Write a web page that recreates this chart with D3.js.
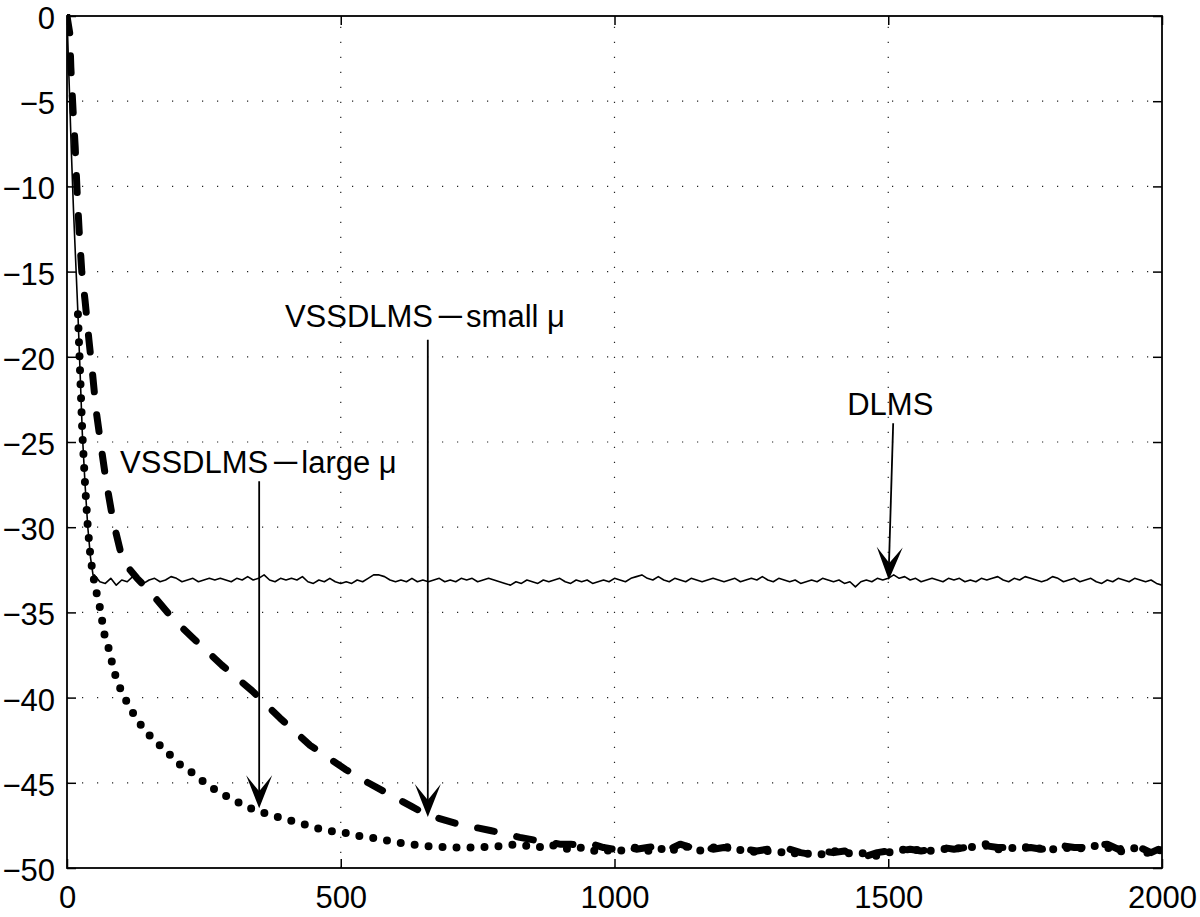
<!DOCTYPE html>
<html>
<head>
<meta charset="utf-8">
<script src="https://cdn.jsdelivr.net/npm/d3@7"></script>
<style>
html,body{margin:0;padding:0;background:#fff;}
svg{display:block;}
text{font-family:"Liberation Sans",Arial,Helvetica,sans-serif;}
</style>
</head>
<body>
<svg id="chart" width="1200" height="917"></svg>
<script>
// ---------------- data ----------------
const xTicks = [0, 500, 1000, 1500, 2000];
const yTicks = [0, -5, -10, -15, -20, -25, -30, -35, -40, -45, -50];

// DLMS: fast initial descent then steady state near -33 dB
const dlmsHeadIter = [0, 4, 8, 12, 16, 20, 24, 28, 33, 38, 43, 48];
const dlmsHeadVal  = [0, -4, -8, -11.5, -14.5, -17.5, -21, -24.5, -27.5, -30, -31.8, -32.9];
const dlmsSteadyVal = [
 -32.8,-33.2,-33.3,-33.0,-33.4,-33.1,-33.2,-32.9,-33.0,-33.3,-33.1,-33.0,-33.2,-33.1,-32.9,-33.0,-33.2,-33.1,-33.0,-33.2,
 -33.1,-33.0,-33.1,-33.0,-33.1,-33.2,-33.0,-33.1,-32.9,-33.1,-33.0,-32.8,-33.1,-33.2,-33.0,-33.1,-33.0,-33.1,-32.9,-33.2,
 -33.3,-33.1,-33.2,-33.0,-33.2,-33.3,-33.2,-33.3,-33.1,-33.2,-33.0,-32.8,-32.8,-32.9,-33.1,-33.2,-33.1,-33.2,-33.0,-33.2,
 -33.1,-33.2,-33.1,-33.0,-33.2,-33.1,-33.2,-33.0,-33.1,-33.0,-33.2,-33.1,-33.0,-33.1,-33.2,-33.3,-33.4,-33.2,-33.3,-33.1,
 -33.2,-33.3,-33.1,-33.2,-33.1,-33.0,-33.2,-33.3,-33.1,-33.2,-33.1,-33.3,-33.2,-33.1,-33.2,-33.0,-33.1,-33.2,-33.0,-32.9,
 -32.8,-33.0,-33.1,-32.9,-33.1,-33.2,-33.0,-33.1,-33.2,-33.0,-33.1,-33.2,-33.1,-33.0,-33.1,-33.2,-33.1,-33.0,-33.2,-33.1,
 -33.0,-33.1,-32.9,-33.1,-33.2,-33.0,-33.1,-33.2,-33.1,-33.3,-33.2,-33.1,-33.2,-33.0,-33.1,-33.2,-33.1,-33.3,-33.2,-33.5,
 -33.2,-33.1,-33.2,-33.0,-33.1,-33.0,-32.8,-33.0,-32.9,-33.1,-33.0,-33.2,-33.1,-33.0,-33.1,-33.2,-33.0,-33.1,-33.0,-33.2,
 -33.1,-33.2,-33.0,-33.1,-33.0,-32.9,-33.1,-33.2,-33.0,-33.1,-32.9,-33.0,-33.1,-33.2,-33.1,-32.9,-33.0,-33.2,-33.1,-33.0,
 -33.2,-33.1,-33.0,-33.2,-33.3,-33.1,-33.2,-33.0,-33.1,-33.2,-33.0,-33.1,-33.2,-33.1,-33.3,-33.4
];
const dlmsSteadyIter = d3.range(50, 2001, 10);

// VSSDLMS - small mu (dashed)
const smallHeadIter = [0, 5, 7, 11, 15, 18, 22, 27, 33, 40, 47, 53, 62, 71, 84, 99, 115, 128, 152, 194, 230, 283, 338, 389, 444, 508, 550, 590, 630, 659, 712, 773, 827, 860, 900];
const smallHeadVal  = [0, -1, -3, -5.5, -7.7, -10, -12.5, -15, -16.7, -19, -21.1, -23.1, -25.2, -27.2, -29.6, -31.6, -32.5, -33.0, -33.8, -35.4, -36.5, -38.1, -39.6, -41.2, -42.8, -44.2, -45.0, -45.7, -46.4, -46.9, -47.4, -47.8, -48.2, -48.4, -48.6];
const smallTailVal = [
 -48.6,-48.7,-48.6,-48.8,-48.9,-48.7,-48.9,-48.8,-48.7,-48.9,-48.6,-48.8,-48.7,-48.9,-48.8,-48.9,-48.9,-49.0,-48.9,-49.0,
 -48.9,-49.1,-49.2,-49.0,-49.1,-49.0,-49.2,-49.3,-49.1,-49.0,-49.0,-48.9,-49.0,-48.9,-48.8,-48.9,-48.8,-48.9,-48.7,-48.8,
 -48.8,-48.9,-48.8,-48.9,-48.8,-48.7,-48.8,-48.8,-48.7,-48.6,-48.9,-48.7,-48.8,-49.1,-48.8
];
const smallTailIter = d3.range(920, 2001, 20);

// VSSDLMS - large mu (dotted); its first samples coincide with DLMS
const largeHeadIter = [20, 24, 28, 33, 38, 43, 48, 55, 60, 69, 77, 84, 91, 102, 113, 128, 144, 163, 183, 205, 228, 248, 270, 292, 316, 342, 384, 429, 471, 504, 528, 572, 600, 650, 700, 750, 800];
const largeHeadVal  = [-17.5, -21, -24.5, -27.5, -30, -31.8, -32.9, -34.0, -34.7, -36.4, -37.2, -38.2, -39.0, -39.8, -40.5, -41.3, -42.0, -42.6, -43.2, -43.9, -44.4, -44.9, -45.4, -45.8, -46.2, -46.6, -47.0, -47.4, -47.8, -47.9, -48.1, -48.3, -48.5, -48.7, -48.8, -48.8, -48.7];
const largeTailVal = [
 -48.6,-48.7,-48.8,-48.6,-48.8,-48.9,-48.8,-49.0,-48.9,-49.1,-48.9,-48.8,-49.0,-48.8,-49.1,-48.7,-48.8,-49.0,-48.8,-48.7,
 -49.0,-48.9,-49.1,-49.0,-49.1,-49.0,-49.3,-49.1,-49.2,-49.0,-49.1,-49.2,-49.1,-49.3,-49.1,-48.9,-49.0,-48.9,-49.0,-48.9,
 -48.8,-48.9,-48.7,-48.6,-48.9,-48.8,-48.9,-48.7,-48.9,-48.9,-48.8,-48.9,-48.8,-48.7,-48.8,-49.1,-48.8,-48.9,-49.2,-48.9
];
const largeTailIter = d3.range(820, 2001, 20);

// annotations (data units); label text split around the wide minus sign
const annoPre   = ["VSSDLMS", "DLMS", "VSSDLMS"];
const annoDash  = ["\u2212", "", "\u2212"];
const annoPost  = ["small \u03bc", "", "large \u03bc"];
const annoTextX = [398, 1425, 97];
const annoTextY = [-18.25, -23.4, -26.8];
const annoFromX = [659, 1509, 351];
const annoFromY = [-19.0, -23.9, -27.3];
const annoToX   = [659, 1501, 351];
const annoToY   = [-47.0, -33.1, -46.5];

// ---------------- chart ----------------
const m = {left: 67, right: 1162, top: 16, bottom: 868};
const svg = d3.select("#chart");
const x = d3.scaleLinear().domain([0, 2000]).range([m.left, m.right]);
const y = d3.scaleLinear().domain([-50, 0]).range([m.bottom, m.top]);
const FS = 31;

// grid
const grid = svg.append("g").attr("stroke", "#222").attr("stroke-width", 1.2).attr("stroke-dasharray", "1.2,13.8");
grid.selectAll("line.vx").data(xTicks.slice(1, -1)).join("line")
  .attr("x1", d => x(d)).attr("x2", d => x(d)).attr("y1", m.bottom).attr("y2", m.top);
grid.selectAll("line.hy").data(yTicks.slice(1, -1)).join("line")
  .attr("x1", m.left).attr("x2", m.right).attr("y1", d => y(d)).attr("y2", d => y(d));

// curves
svg.append("clipPath").attr("id", "clip").append("rect")
  .attr("x", m.left).attr("y", m.top - 2).attr("width", m.right - m.left).attr("height", m.bottom - m.top + 2);
const plot = svg.append("g").attr("clip-path", "url(#clip)");
const line = d3.line().x(d => x(d[0])).y(d => y(d[1]));
const zip = (a, b) => a.map((v, i) => [v, b[i]]);

const largeData = zip(largeHeadIter, largeHeadVal).concat(zip(largeTailIter, largeTailVal));
const smallData = zip(smallHeadIter, smallHeadVal).concat(zip(smallTailIter, smallTailVal));
const dlmsData  = zip(dlmsHeadIter, dlmsHeadVal).concat(zip(dlmsSteadyIter, dlmsSteadyVal));

plot.append("path").datum(largeData).attr("d", line)
  .attr("fill", "none").attr("stroke", "#000").attr("stroke-width", 8)
  .attr("stroke-linecap", "round").attr("stroke-dasharray", "0,14");
plot.append("path").datum(smallData).attr("d", line)
  .attr("fill", "none").attr("stroke", "#000").attr("stroke-width", 7)
  .attr("stroke-linecap", "round").attr("stroke-linejoin", "round").attr("stroke-dasharray", "17,23");
plot.append("path").datum(dlmsData).attr("d", line)
  .attr("fill", "none").attr("stroke", "#000").attr("stroke-width", 1.6).attr("stroke-linejoin", "round");

// axes
function styleAxis(g) {
  g.select(".domain").remove();
  g.selectAll(".tick line").attr("stroke", "#000").attr("stroke-width", 1.5);
  g.selectAll(".tick text").attr("font-size", FS).attr("fill", "#000")
    .attr("font-family", "'Liberation Sans',Arial,Helvetica,sans-serif");
}
const fmt = d => d < 0 ? "\u2212" + Math.abs(d) : String(d);
svg.append("g").attr("transform", `translate(0,${m.bottom})`)
  .call(d3.axisBottom(x).tickValues(xTicks).tickFormat(fmt).tickSizeInner(-9).tickSizeOuter(0).tickPadding(18))
  .call(styleAxis);
svg.append("g").attr("transform", `translate(0,${m.top})`)
  .call(d3.axisTop(x).tickValues(xTicks).tickFormat("").tickSizeInner(-9).tickSizeOuter(0))
  .call(styleAxis);
svg.append("g").attr("transform", `translate(${m.left},0)`)
  .call(d3.axisLeft(y).tickValues(yTicks).tickFormat(fmt).tickSizeInner(-9).tickSizeOuter(0).tickPadding(12))
  .call(styleAxis)
  .call(g => g.selectAll(".tick text").attr("dy", "0.4em"));
svg.append("g").attr("transform", `translate(${m.right},0)`)
  .call(d3.axisRight(y).tickValues(yTicks).tickFormat("").tickSizeInner(-9).tickSizeOuter(0))
  .call(styleAxis);

// box
svg.append("rect").attr("x", m.left).attr("y", m.top).attr("width", m.right - m.left).attr("height", m.bottom - m.top)
  .attr("fill", "none").attr("stroke", "#000").attr("stroke-width", 1.8);

// annotations
const ann = svg.append("g");
annoPre.forEach((t, i) => {
  const tx = ann.append("text").attr("x", x(annoTextX[i])).attr("y", y(annoTextY[i]))
    .attr("font-size", FS).attr("fill", "#000");
  tx.append("tspan").text(t);
  if (annoDash[i]) {
    tx.append("tspan").attr("dx", 3).attr("textLength", 28).attr("lengthAdjust", "spacingAndGlyphs").text(annoDash[i]);
    tx.append("tspan").attr("dx", 2).text(annoPost[i]);
  }
  const x1 = x(annoFromX[i]), y1 = y(annoFromY[i]), x2 = x(annoToX[i]), y2 = y(annoToY[i]);
  const ang = Math.atan2(y2 - y1, x2 - x1) * 180 / Math.PI;
  ann.append("line").attr("x1", x1).attr("y1", y1).attr("x2", x2).attr("y2", y2 - 10)
    .attr("stroke", "#000").attr("stroke-width", 1.8);
  ann.append("path").attr("d", "M0,0 L-33,-13 L-17,0 L-33,13 Z")
    .attr("transform", `translate(${x2},${y2}) rotate(${ang})`).attr("fill", "#000");
});
</script>
</body>
</html>
